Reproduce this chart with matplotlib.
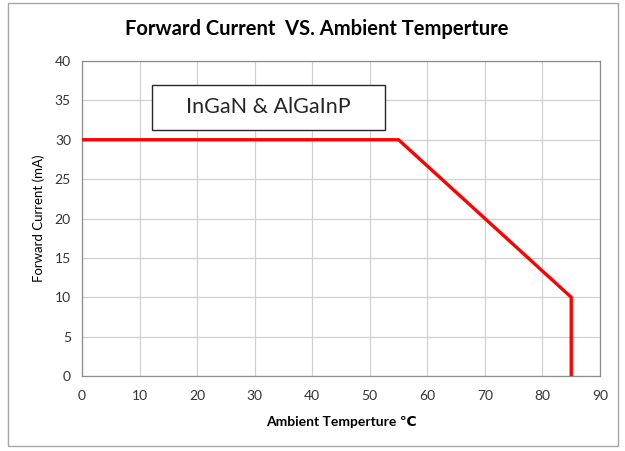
import matplotlib
matplotlib.use("Agg")
import matplotlib.pyplot as plt
from matplotlib.patches import Rectangle

plt.rcParams['font.family'] = ['Lato', 'DejaVu Sans']

# Derating curve
temp = [0, 55, 85, 85]
current = [30, 30, 10, 0]

x_ticks = list(range(0, 91, 10))
y_ticks = list(range(0, 41, 5))

fig = plt.figure(figsize=(6.25, 4.51), dpi=100)

# chart frame like the spreadsheet chart object
fig.patches.append(Rectangle((8 / 625, 1 - 446 / 451), 610 / 625, 443 / 451,
                             transform=fig.transFigure, fill=False,
                             edgecolor='#a6a6a6', linewidth=1.0))

ax = fig.add_axes([82 / 625, 1 - 376 / 451, 518 / 625, 315 / 451])
ax.plot(temp, current, color='#ff0000', linewidth=2.4, solid_joinstyle='miter', zorder=3)

ax.set_xlim(0, 90)
ax.set_ylim(0, 40)
ax.set_xticks(x_ticks)
ax.set_yticks(y_ticks)
ax.grid(True, color='#d0d0d0', linewidth=0.9)
ax.set_axisbelow(True)
for s in ax.spines.values():
    s.set_color('#8c8c8c')
    s.set_linewidth(0.9)
ax.tick_params(length=0, labelsize=10, colors='#333333')
ax.tick_params(axis='x', pad=10)
ax.tick_params(axis='y', pad=8)

ax.set_xlabel('Ambient Temperture ℃', fontsize=10, fontweight='bold', labelpad=10)
ax.set_ylabel('Forward Current (mA)', fontsize=9.5, labelpad=7)
fig.text(317 / 625, 1 - 29 / 451, 'Forward Current  VS. Ambient Temperture',
         ha='center', va='center', fontsize=14.5, fontweight='bold')

# label box
ax.add_patch(Rectangle((12.2, 31.25), 40.4, 5.7, facecolor='white',
                       edgecolor='#262626', linewidth=1.0, zorder=4))
ax.text(32.4, 34.1, 'InGaN & AlGaInP', ha='center', va='center',
        fontsize=15.5, color='#262626', zorder=5)

fig.savefig('out.png', dpi=100)
